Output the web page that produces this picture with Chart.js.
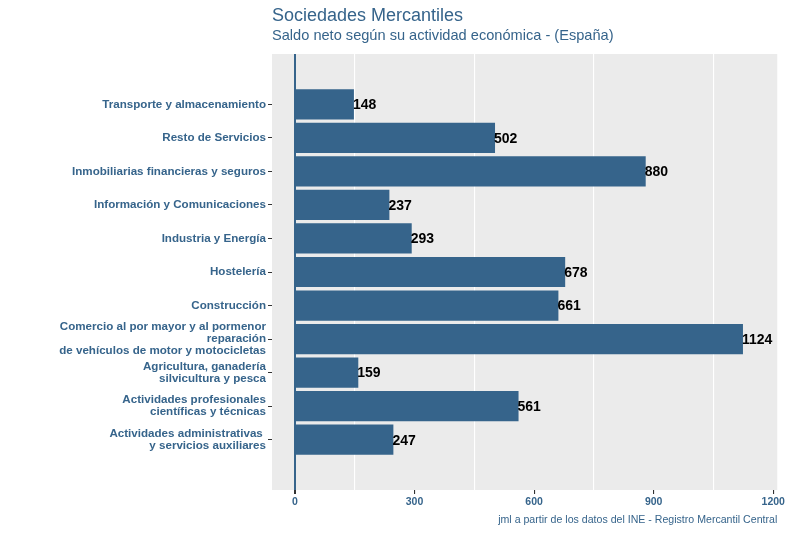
<!DOCTYPE html>
<html>
<head>
<meta charset="utf-8">
<script src="https://cdn.jsdelivr.net/npm/chart.js@4/dist/chart.umd.min.js"></script>
<style>
  html, body { margin: 0; padding: 0; background: #ffffff; }
  #wrap { width: 787px; height: 533px; }
</style>
</head>
<body>
<div id="wrap"><canvas id="chart" width="787" height="533"></canvas></div>
<script>
// data, top to bottom as in the picture
const categories = [
    ['Transporte y almacenamiento'],
    ['Resto de Servicios'],
    ['Inmobiliarias financieras y seguros'],
    ['Información y Comunicaciones'],
    ['Industria y Energía'],
    ['Hostelería'],
    ['Construcción'],
    ['Comercio al por mayor y al pormenor', 'reparación', 'de vehículos de motor y motocicletas'],
    ['Agricultura, ganadería', 'silvicultura y pesca'],
    ['Actividades profesionales', 'científicas y técnicas'],
    ['Actividades administrativas ', 'y servicios auxiliares']
];
const saldoNeto = [148, 502, 880, 237, 293, 678, 661, 1124, 159, 561, 247];
const xTicks = [0, 150, 300, 450, 600, 750, 900, 1050, 1200];

const titleText = 'Sociedades Mercantiles';
const subtitleText = 'Saldo neto según su actividad económica - (España)';
const captionText = 'jml a partir de los datos del INE - Registro Mercantil Central';

const blue = '#36648B';
const fontFamily = "'Liberation Sans', Arial, sans-serif";

const points = saldoNeto.map((v, i) => ({ x: v, y: i }));

// gray panel behind the plot
const panelBg = {
    id: 'panelBg',
    beforeDraw(chart) {
        const { ctx, chartArea: a } = chart;
        ctx.save();
        ctx.fillStyle = '#EBEBEB';
        ctx.fillRect(a.left, a.top, a.right - a.left, a.bottom - a.top);
        ctx.restore();
    }
};

// value labels at the end of each bar
const valueLabels = {
    id: 'valueLabels',
    afterDatasetsDraw(chart) {
        const ctx = chart.ctx;
        const meta = chart.getDatasetMeta(0);
        ctx.save();
        ctx.font = 'bold 14px ' + fontFamily;
        ctx.fillStyle = '#000000';
        ctx.textAlign = 'left';
        ctx.textBaseline = 'middle';
        meta.data.forEach((bar, i) => {
            ctx.fillText(String(saldoNeto[i]), bar.x - 1, bar.y + 1);
        });
        ctx.restore();
    }
};

// title, subtitle and caption
const texts = {
    id: 'texts',
    afterDraw(chart) {
        const { ctx, chartArea: a } = chart;
        ctx.save();
        ctx.fillStyle = blue;
        ctx.textBaseline = 'alphabetic';
        ctx.textAlign = 'left';
        ctx.font = '18px ' + fontFamily;
        ctx.fillText(titleText, a.left, 21);
        ctx.font = '14.6px ' + fontFamily;
        ctx.fillText(subtitleText, a.left, 40);
        ctx.textAlign = 'right';
        ctx.font = '10.6px ' + fontFamily;
        ctx.fillText(captionText, a.right, 523);
        ctx.restore();
    }
};

new Chart(document.getElementById('chart').getContext('2d'), {
    type: 'bar',
    data: {
        datasets: [{
            data: points,
            backgroundColor: blue,
            borderWidth: 0,
            barPercentage: 0.9,
            categoryPercentage: 1.0
        }]
    },
    options: {
        indexAxis: 'y',
        responsive: false,
        animation: false,
        layout: { padding: { top: 54, right: 8, bottom: 0, left: 0 } },
        plugins: {
            legend: { display: false },
            tooltip: { enabled: false }
        },
        scales: {
            x: {
                type: 'linear',
                min: -57.5,
                max: 1210,
                offset: false,
                afterBuildTicks(scale) { scale.ticks = xTicks.map(v => ({ value: v })); },
                afterFit(scale) { scale.height = 43; },
                border: { display: false },
                grid: {
                    offset: false,
                    // only minor lines are white, 0 is the vertical reference line
                    color: c => c.tick.value === 0 ? blue : (c.tick.value % 300 === 150 ? '#FFFFFF' : 'rgba(0,0,0,0)'),
                    lineWidth: c => c.tick.value === 0 ? 2 : 1.1,
                    tickColor: c => c.tick.value % 300 === 0 ? '#333333' : 'rgba(0,0,0,0)',
                    tickLength: 4
                },
                ticks: {
                    autoSkip: false,
                    maxRotation: 0,
                    padding: 2,
                    color: blue,
                    font: { family: fontFamily, size: 10.5, weight: 'bold' },
                    callback: v => (v % 300 === 0 ? String(v) : '')
                }
            },
            y: {
                type: 'linear',
                reverse: true,
                min: -1.5,
                max: 11.5,
                offset: false,
                afterBuildTicks(scale) { scale.ticks = categories.map((c, i) => ({ value: i })); },
                afterFit(scale) { scale.width = 272; },
                border: { display: false },
                grid: {
                    offset: false,
                    drawOnChartArea: false,
                    tickColor: '#333333',
                    tickLength: 4
                },
                ticks: {
                    autoSkip: false,
                    padding: 2,
                    color: blue,
                    font: { family: fontFamily, size: 11.6, weight: 'bold', lineHeight: 1.04 },
                    callback: v => categories[v]
                }
            }
        }
    },
    plugins: [panelBg, valueLabels, texts]
});
</script>
</body>
</html>
